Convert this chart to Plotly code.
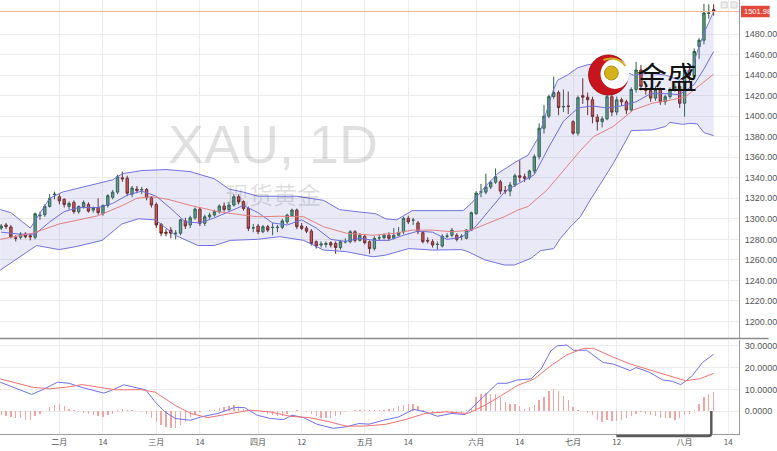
import plotly.graph_objects as go

# ---------------- data (bar index 0 = first trading day of February 2019) ----------------
bar_k = list(range(-12, 136))

opens = [1291, 1294, 1292, 1281.5, 1282, 1285, 1283.5, 1282, 1303, 1304,
         1312, 1323.5, 1321.5, 1319, 1312, 1316, 1307, 1312, 1314, 1308.5,
         1311, 1305, 1313, 1321, 1326, 1340, 1339.5, 1324, 1329, 1328,
         1328.6, 1320.5, 1314, 1294.6, 1287, 1289, 1285.5, 1286, 1298, 1294,
         1301, 1309.5, 1295.6, 1302, 1303.7, 1307, 1312.5, 1309, 1313.5, 1321.5,
         1316.7, 1310, 1291, 1293, 1287.4, 1292.3, 1291.5, 1291.5, 1291.7, 1297,
         1303, 1308.6, 1293, 1291, 1288, 1277.7, 1274.5, 1275, 1276.7, 1276,
         1272, 1277.5, 1277.7, 1287.4, 1279, 1283, 1277.7, 1271, 1281.3, 1281.6,
         1284, 1281, 1284, 1287.4, 1300.5, 1298.6, 1296, 1286.5, 1279, 1277.7,
         1275, 1273.5, 1283, 1284, 1284, 1282.8, 1281, 1289, 1305, 1326,
         1326, 1331, 1335.6, 1336, 1327.5, 1327, 1333, 1342, 1341, 1340,
         1346.6, 1360.6, 1388.3, 1400, 1419, 1423, 1409, 1410, 1394.7, 1383.4,
         1420, 1418.5, 1416, 1399, 1394.7, 1397.4, 1419, 1404, 1416, 1414,
         1406, 1426, 1445, 1427, 1425, 1417.6, 1426, 1414, 1419, 1426,
         1429, 1412.6, 1445, 1439, 1468, 1474, 1500.2, 1503.7]

closes = [1293, 1292.5, 1282.5, 1281, 1285, 1282.5, 1282.5, 1305, 1303.5, 1312,
          1320, 1324, 1317.5, 1314, 1315, 1307, 1312, 1316, 1307.5, 1311,
          1306, 1313, 1322.5, 1326, 1341, 1339, 1325, 1330, 1327.5, 1328.6,
          1320.5, 1313.5, 1294, 1286, 1286, 1286, 1286, 1299, 1293, 1301,
          1309.5, 1295.6, 1302, 1303.7, 1307, 1312.5, 1309, 1313.5, 1321.5, 1316.5,
          1310, 1290.7, 1291.3, 1287.4, 1292.3, 1289, 1291.7, 1291.8, 1298, 1303.7,
          1308.6, 1292.3, 1290.7, 1288, 1276, 1273.5, 1275.5, 1276, 1274.5, 1272,
          1277.7, 1277.7, 1287.4, 1279, 1284, 1276.7, 1271, 1281, 1281.6, 1284,
          1281, 1284, 1286.5, 1300.5, 1297, 1298.8, 1287.4, 1277.7, 1278.4, 1274.5,
          1275.2, 1283, 1283.2, 1289, 1280, 1283, 1289, 1306, 1325, 1326.3,
          1331, 1335.6, 1341, 1327, 1327, 1333, 1342, 1340.5, 1339.5, 1346.6,
          1360.6, 1388.3, 1400, 1419, 1423, 1408.4, 1409.5, 1409.4, 1383.4, 1418,
          1418.5, 1416, 1399.6, 1394.7, 1397.4, 1419, 1404, 1416, 1414, 1406,
          1426, 1445, 1429, 1425, 1417.6, 1426, 1414, 1419, 1426, 1429,
          1412.6, 1445, 1440, 1463, 1474, 1500.5, 1500.6, 1501.98]

highs = [1295, 1296, 1294, 1284, 1287, 1287, 1285, 1306, 1307, 1314,
         1324, 1326.5, 1324, 1320, 1317, 1318, 1313, 1318, 1316, 1312,
         1320, 1314, 1324, 1328, 1343, 1346, 1342, 1332, 1332, 1331,
         1330, 1322, 1316, 1296, 1290, 1292, 1289, 1300, 1301, 1303,
         1311, 1311, 1304, 1306, 1309, 1314, 1316, 1316, 1324, 1324,
         1318, 1312, 1295, 1295, 1294, 1294, 1296, 1294, 1300, 1305,
         1310, 1310, 1296, 1293, 1290, 1279, 1278, 1278, 1278, 1278,
         1279, 1281, 1289, 1289, 1286, 1285, 1279, 1283, 1285, 1286,
         1287, 1291, 1292, 1302, 1303, 1301, 1298, 1288, 1282, 1280,
         1278, 1285, 1286, 1291, 1286, 1285, 1290, 1307, 1327, 1334,
         1344, 1337, 1349, 1338, 1332, 1336, 1344, 1357, 1344, 1348,
         1363, 1393, 1411, 1421, 1438.6, 1425, 1426, 1424, 1396, 1420,
         1437, 1423, 1419, 1402, 1400, 1421, 1422, 1419, 1418, 1416,
         1428, 1453, 1450, 1430, 1428, 1429, 1428, 1421, 1428, 1432,
         1431, 1448, 1449, 1466, 1476, 1509.5, 1509, 1509]

lows = [1289, 1290, 1281, 1278, 1280, 1281, 1279, 1280, 1299, 1302,
        1311, 1319, 1314, 1311, 1309, 1305, 1305, 1310, 1306, 1306,
        1304, 1303, 1311, 1319, 1324, 1336, 1322, 1321, 1325, 1324,
        1318, 1311, 1291, 1283, 1283, 1281, 1280, 1284, 1290, 1291,
        1299, 1293, 1293, 1300, 1302, 1305, 1307, 1307, 1312, 1314,
        1308, 1288, 1287, 1285, 1286, 1287, 1284, 1287, 1290, 1295,
        1302, 1290, 1289, 1286, 1274, 1271, 1272, 1272, 1272, 1266,
        1270, 1276, 1276, 1277, 1278, 1275, 1266, 1269, 1279, 1280,
        1279, 1280, 1283, 1285, 1295, 1294, 1285, 1276, 1276, 1272,
        1270, 1272, 1281, 1282, 1278, 1279, 1280, 1288, 1304, 1321,
        1324, 1329, 1334, 1324, 1324, 1322, 1331, 1336, 1336, 1338,
        1344, 1358, 1383, 1398, 1417, 1401, 1404, 1402, 1382, 1381,
        1412, 1401, 1393, 1386, 1389, 1396, 1400, 1401, 1410, 1402,
        1404, 1423, 1425, 1421, 1414, 1415, 1411, 1411, 1417, 1424,
        1408, 1399.6, 1434, 1437, 1456, 1470, 1495, 1498]

# Bollinger band lines (bar index, price)
upper_k = [-12.2, -10, -6, -5, -4, -2, 0.6, 4, 8, 11, 13, 17, 22, 27, 32, 35, 38, 41, 43, 49,
           54.5, 57.8, 61.2, 65.3, 67.3, 69.6, 72.8, 77, 83.3, 85, 87.8, 90.4, 94, 96.7, 98.7,
           99.7, 100.8, 101.8, 102.8, 104.8, 106.9, 108.9, 112, 115, 118.4, 121.8, 125.1, 128,
           130.6, 132, 133.3, 135]
upper_v = [1309, 1306, 1291, 1298, 1306, 1320, 1326, 1330, 1334, 1338, 1344, 1347, 1348, 1346,
           1339, 1329, 1326, 1322, 1322, 1322, 1318, 1309, 1307, 1305, 1300, 1299, 1308, 1308,
           1308, 1315, 1331, 1344, 1355, 1362, 1378, 1392, 1410, 1424, 1435, 1440, 1447, 1450,
           1452, 1448, 1440, 1442, 1440, 1435, 1448, 1468, 1484, 1502]

mid_k = [-12.2, -5.5, 0, 8, 13, 16, 19, 22.4, 26.7, 32.7, 37.8, 41, 45.5, 50.4, 54.5, 59.2,
         64.7, 69.4, 72.8, 77, 81, 85, 88.4, 91.8, 94.6, 96.7, 100.6, 103.5, 107.6, 110.2,
         114.3, 118.4, 122.4, 126.5, 129.2, 135]
mid_v = [1280, 1286, 1295, 1303, 1313, 1320, 1321.6, 1319, 1313.5, 1307, 1303.7, 1302, 1302.5,
         1302, 1292.3, 1286, 1284, 1286, 1289, 1289, 1287.4, 1289, 1295.6, 1302, 1308.6, 1312,
         1328, 1344, 1367, 1380, 1390, 1406, 1412.7, 1416, 1419, 1441]

lower_k = [-12.2, -8, -4.7, 0, 3.5, 8.8, 12.9, 16.3, 19.8, 23.9, 28.6, 32, 35.3, 40.8, 45.5,
           50.4, 54.5, 59.2, 64.7, 67.3, 72.1, 77, 83, 84.3, 87.8, 91.8, 93.9, 97.3, 99.3, 102,
           103.4, 105.4, 107.5, 109.5, 112.2, 114.3, 117, 118, 122.4, 125.1, 126, 128.6, 130,
           131.6, 133, 135]
lower_v = [1250, 1263, 1274, 1270, 1273, 1279, 1295, 1300, 1299, 1284, 1274, 1274, 1279, 1280,
           1282.6, 1279, 1269.6, 1268, 1263, 1264.6, 1271, 1269.6, 1270, 1268, 1260, 1255, 1255,
           1261.5, 1269, 1271, 1281, 1292, 1302, 1318, 1338, 1354, 1377, 1386, 1386.6, 1390,
           1394, 1392, 1393, 1392.5, 1384, 1381]

# fast moving average line (blue, inside the bands)
ma_k = [-12, -8, -5, -2, 1, 4, 8, 11, 14, 17, 20, 23, 26, 29, 32, 35, 38, 41, 44, 47, 50, 53,
        56, 59, 62, 65, 68, 71, 74, 77, 80, 83, 86, 89, 92, 95, 98, 101, 104, 107, 110, 113,
        116, 119, 122, 125, 128, 131, 133, 135]
ma_v = [1287, 1285, 1285, 1297, 1307, 1311, 1311, 1315, 1323, 1327, 1322, 1310, 1297, 1296,
        1301, 1307, 1313, 1306, 1296, 1294, 1299, 1291, 1280, 1278, 1281, 1279, 1279, 1284,
        1288, 1287, 1280, 1282, 1293, 1310, 1327, 1335, 1343, 1370, 1395, 1408, 1410, 1408,
        1410, 1414, 1422, 1422, 1421, 1431, 1446, 1463]

last_price = 1501.98

# MACD pane
macd_k = [-12.2, -8.8, -5.7, -3.5, -0.4, 2, 4.5, 9.2, 10.8, 13.3, 15.7, 17.8, 19.8, 21.8, 23.9,
          27.1, 29.2, 32.7, 36.1, 38.2, 40.8, 43.5, 46.3, 48, 50.4, 53.1, 56.5, 59.2, 61.8, 63.9,
          66.9, 70, 73.1, 75.5, 78, 81, 83.7, 86.3, 88.4, 90.4, 92.4, 94.5, 97.3, 99.4, 101.4,
          102.7, 104.7, 106.1, 108.8, 110.8, 112.2, 114.3, 116.3, 117.8, 119, 121.8, 124.5,
          126.5, 128.2, 129.2, 130.6, 132.7, 135]
macd_v = [13.3, 10.3, 7.7, 9.8, 13.3, 12.8, 11, 8.3, 9.6, 12.1, 10.8, 9.8, 4.2, -0.3, -3.3,
          -4.1, -2.6, -1, 1.7, 1.7, -1.8, -3.3, -3.8, -1.8, -2.9, -5.9, -7.8, -7.1, -5.6, -5.9,
          -4.1, -2.6, 0.9, -0.3, -2.3, -1, -1.5, 4.2, 8.7, 12.8, 12.8, 14.3, 14.8, 19.3, 27.6,
          29.9, 30.3, 27.9, 27.9, 24.6, 22.3, 21.6, 19.8, 18.6, 20, 17.8, 14.3, 13.7, 12.2, 13.7,
          16.3, 22.3, 26.1]

signal_k = [-12.2, -5.5, -2, 1.4, 4.7, 8.2, 11.6, 16.9, 19.8, 23.9, 27.1, 30.6, 35.3, 39.4,
            43.5, 47.6, 51.6, 55.7, 59.2, 62.7, 67.3, 71.4, 75.5, 79.6, 84.3, 87.8, 91.2, 94.5,
            98, 101.4, 104.7, 108.2, 110.2, 113.7, 117.8, 121.8, 125.9, 129.2, 132, 135]
signal_v = [14.8, 11, 10.3, 11, 12.2, 11, 9.8, 9.9, 8.7, 2.7, -1, -2.9, -1, 0.5, -0.3, -2.3,
            -2.9, -4.8, -6.8, -6.8, -6, -3.8, -1, -0.3, -1, 2.7, 7.2, 11.8, 14.8, 20.8, 25.8,
            28.8, 28.8, 25.3, 21.6, 18.9, 16.3, 14, 14.8, 17.3]

hist_v = [-1.8, -2.3, -2.6, -3.0, -3.3, -3.8, -3.8, -2.3, -1.1, 0.0,
          2.0, 2.7, 3.2, 2.3, 1.2, 0.5, -0.3, -0.8, -1.1, -1.8,
          -2.3, -2.6, -1.8, -1.1, 0.5, 1.2, 0.8, 0.5, 0.0, -0.3,
          -1.1, -2.9, -4.8, -6.3, -7.1, -7.8, -7.8, -6.3, -4.8, -2.6,
          -1.1, -0.3, 0.0, 0.5, 0.8, 1.7, 2.0, 2.3, 2.7, 2.3,
          1.2, 0.5, 0.0, 0.0, -0.3, -1.1, -1.8, -2.3, -2.3, -1.1,
          0.0, 0.5, 0.0, -0.3, -1.1, -2.3, -2.9, -2.9, -2.9, -2.3,
          -1.8, -0.3, 0.0, 0.5, 0.8, 0.5, 0.5, 0.5, 0.8, 0.5,
          1.2, 1.7, 2.3, 2.7, 3.2, 3.5, 2.3, 0.5, 0.0, -0.8,
          -0.8, -0.3, -0.3, -0.3, -0.8, -0.8, 0.5, 1.2, 6.5, 8.0,
          8.3, 8.0, 8.0, 6.5, 4.2, 3.5, 3.2, 2.3, 1.2, 2.0,
          2.7, 5.0, 6.5, 9.5, 10.3, 9.5, 7.2, 5.0, 2.0, 0.8,
          0.0, -0.8, -1.8, -3.8, -4.8, -4.1, -4.4, -4.4, -4.1, -3.3,
          -2.3, -1.1, -0.3, -1.1, -1.8, -2.3, -2.9, -3.3, -3.3, -3.8,
          -2.9, -1.8, -1.1, 0.8, 3.2, 6.5, 8.0, 8.7]

tick_k = [0, 9, 20, 29, 41, 50, 63, 72, 86, 95, 106, 115, 129, 138]
tick_text = ["二月", "14", "三月", "14", "四月", "12", "五月", "14", "六月", "14",
             "七月", "12", "八月", "14"]
price_ticks = list(range(1200, 1500, 20))
macd_ticks = [0, 10, 20, 30]

# ---------------- geometry helpers (pixels -> paper) ----------------
W, H = 777, 451
ML, MR, MT, MB = 0, 30, 0, 17
PW, PH = W - ML - MR, H - MT - MB


def px(xp):
    return (xp - ML) / PW


def py(yp):
    return 1 - (yp - MT) / PH


fig = go.Figure()

# band fill
fig.add_trace(go.Scatter(
    x=upper_k + lower_k[::-1], y=upper_v + lower_v[::-1], fill="toself",
    fillcolor="rgba(125,125,215,0.17)", line=dict(width=0), mode="lines",
    hoverinfo="skip", showlegend=False, xaxis="x", yaxis="y"))
for kk, vv, col in [(upper_k, upper_v, "#7373df"), (lower_k, lower_v, "#7373df"),
                    (ma_k, ma_v, "#6d6dde"), (mid_k, mid_v, "#e38080")]:
    fig.add_trace(go.Scatter(x=kk, y=vv, mode="lines", line=dict(color=col, width=1),
                             hoverinfo="skip", showlegend=False, xaxis="x", yaxis="y"))

fig.add_trace(go.Candlestick(
    x=bar_k, open=opens, high=highs, low=lows, close=closes,
    increasing=dict(line=dict(color="#2b5e40", width=1), fillcolor="#5fa57b"),
    decreasing=dict(line=dict(color="#6b2118", width=1), fillcolor="#d9503c"),
    whiskerwidth=0, showlegend=False, xaxis="x", yaxis="y"))

# MACD pane
fig.add_trace(go.Bar(x=bar_k, y=hist_v, width=0.28, marker=dict(color="#f4a3a3", line=dict(width=0)),
                     showlegend=False, xaxis="x", yaxis="y2", hoverinfo="skip"))
fig.add_trace(go.Scatter(x=macd_k, y=macd_v, mode="lines", line=dict(color="#7070ee", width=1),
                         showlegend=False, xaxis="x", yaxis="y2", hoverinfo="skip"))
fig.add_trace(go.Scatter(x=signal_k, y=signal_v, mode="lines", line=dict(color="#f07272", width=1),
                         showlegend=False, xaxis="x", yaxis="y2", hoverinfo="skip"))

xmin = -60 / 4.899
xmax = xmin + PW / 4.899
split = 338.5

fig.update_layout(
    width=W, height=H, margin=dict(l=ML, r=MR, t=MT, b=MB),
    paper_bgcolor="white", plot_bgcolor="white", showlegend=False,
    bargap=0,
    xaxis=dict(domain=[0, 1], range=[xmin, xmax], anchor="y2", tickmode="array",
               tickvals=tick_k, ticktext=tick_text, showgrid=True, gridcolor="#ececec",
               gridwidth=1, zeroline=False, showline=True, linecolor="#9a9a9a",
               ticks="", tickfont=dict(family="Noto Sans CJK SC, Liberation Sans", size=8,
                                       color="#555"),
               rangeslider=dict(visible=False), fixedrange=True),
    yaxis=dict(domain=[py(split), 1], range=[1183.4, 1513.2], side="right", anchor="x",
               tickmode="array", tickvals=price_ticks, tickformat=".2f",
               showgrid=True, gridcolor="#ececec", zeroline=False, showline=True,
               linecolor="#9a9a9a", ticks="", ticklabelstandoff=3,
               tickfont=dict(family="Liberation Sans", size=9, color="#555")),
    yaxis2=dict(domain=[0, py(split + 1.5)], range=[-10.4, 32.6], side="right", anchor="x",
                tickmode="array", tickvals=macd_ticks, tickformat=".4f",
                showgrid=True, gridcolor="#ececec", zeroline=False, showline=True,
                linecolor="#9a9a9a", ticks="", ticklabelstandoff=3,
                tickfont=dict(family="Liberation Sans", size=9, color="#555")),
)

shapes = []
# last price line and label
shapes.append(dict(type="line", xref="paper", yref="y", x0=0, x1=1, y0=last_price, y1=last_price,
                   line=dict(color="#f2b49a", width=1)))
shapes.append(dict(type="rect", xref="paper", yref="y", x0=px(749), x1=px(778),
                   y0=last_price - 5.6, y1=last_price + 5.6, fillcolor="#e2493b",
                   line=dict(width=0)))
# pane separator
shapes.append(dict(type="line", xref="paper", yref="paper", x0=0, x1=px(777), y0=py(split),
                   y1=py(split), line=dict(color="#8c8c8c", width=1.5)))
# small toolbar squares at top right
for x0 in (729, 739):
    shapes.append(dict(type="rect", xref="paper", yref="paper", x0=px(x0), x1=px(x0 + 6),
                       y0=py(8), y1=py(2), fillcolor="#efefef", line=dict(color="#d0d0d0", width=1)))
# logo circle
shapes.append(dict(type="circle", xref="paper", yref="paper", x0=px(595), x1=px(635),
                   y0=py(95), y1=py(55), fillcolor="#c8141c", line=dict(color="#9e0d12", width=1)))
shapes.append(dict(type="circle", xref="paper", yref="paper", x0=px(607), x1=px(636),
                   y0=py(89), y1=py(59), fillcolor="white", line=dict(width=0)))
shapes.append(dict(type="circle", xref="paper", yref="paper", x0=px(611), x1=px(625),
                   y0=py(80), y1=py(66), fillcolor="#d4b21c", line=dict(color="#b08e10", width=1)))
shapes.append(dict(type="path", xref="paper", yref="paper",
                   path=f"M {px(610)},{py(60)} Q {px(624)},{py(55)} {px(632)},{py(66)}",
                   line=dict(color="#d4b21c", width=2)))
# bracket below MACD pane
shapes.append(dict(type="path", xref="paper", yref="paper",
                   path=(f"M {px(623)},{py(436)} L {px(716)},{py(436)} "
                         f"Q {px(719)},{py(436)} {px(719)},{py(433)} L {px(719)},{py(411)}"),
                   line=dict(color="#5a5a5a", width=2.5)))
fig.update_layout(shapes=shapes)

annotations = [
    dict(text="XAU, 1D", xref="paper", yref="paper", x=px(276), y=py(144), showarrow=False,
         font=dict(family="Liberation Sans", size=54, color="rgba(0,0,0,0.12)"),
         xanchor="center", yanchor="middle"),
    dict(text="现货黄金", xref="paper", yref="paper", x=px(276), y=py(193), showarrow=False,
         font=dict(family="Noto Sans CJK SC", size=24, color="rgba(0,0,0,0.12)"),
         xanchor="center", yanchor="middle"),
    dict(text="金盛", xref="paper", yref="paper", x=px(674), y=py(75), showarrow=False,
         font=dict(family="Noto Sans CJK SC", size=30, color="#111"),
         xanchor="center", yanchor="middle"),
    dict(text=f"{last_price:.2f}", xref="paper", yref="y", x=px(750), y=last_price,
         showarrow=False, font=dict(family="Liberation Sans", size=7.5, color="white"),
         xanchor="left", yanchor="middle"),
]
fig.update_layout(annotations=annotations)

fig.write_html("out.html",
               config={"displayModeBar": False, "staticPlot": True},
               post_script="document.body.style.margin='0';document.body.style.padding='0';")
